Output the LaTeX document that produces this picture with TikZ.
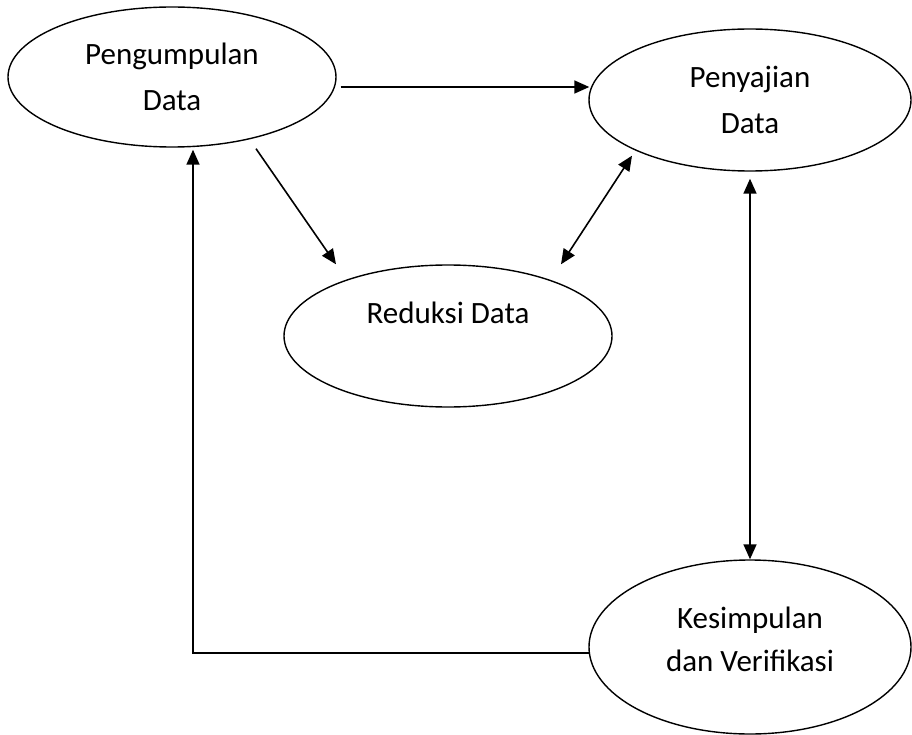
\documentclass[tikz,border=0pt]{standalone}
\usepackage{fontspec}
\setmainfont{Carlito}
\usetikzlibrary{shapes.geometric, arrows.meta}
\tikzset{>={Triangle[length=15pt,width=13pt]},
stage/.style={ellipse, draw, line width=1.4pt, inner sep=0pt, align=center, font=\fontsize{31}{46}\selectfont},
}

\begin{document}
\begin{tikzpicture}[x=1pt,y=-1pt,line width=1.6pt]
    \useasboundingbox (0,0) rectangle (912,735);
        \node[stage, minimum width=328, minimum height=140] (kumpul) at (172,77) {Pengumpulan\\Data};
        \node[stage, minimum width=322, minimum height=142] (sajian) at (750,100) {Penyajian\\Data};
        \node[stage, minimum width=328, minimum height=142] (reduksi) at (448,336) {Reduksi Data\\~};
        \node[stage, minimum width=322, minimum height=174] (simpul) at (750,647) {Kesimpulan\\[-3pt]dan Verifikasi\\[-31pt]~};
        \draw
        ([shift={(4,10)}]kumpul.east) edge[->] ([shift={(1,-13)}]sajian.west)
        ([shift={(84,1)}]kumpul.south) edge[->] ([shift={(-112,0)}]reduksi.north)
        ([shift={(113,0)}]reduksi.north) edge[<->] ([shift={(-118,-16)}]sajian.south)
        ([shift={(0,7)}]sajian.south) edge[<->] (simpul.north)
        ;
        % balik ke pengumpulan data
        \draw[->] ([shift={(1,6)}]simpul.west) -| ([shift={(21,2)}]kumpul.south);
    \end{tikzpicture}
\end{document}
